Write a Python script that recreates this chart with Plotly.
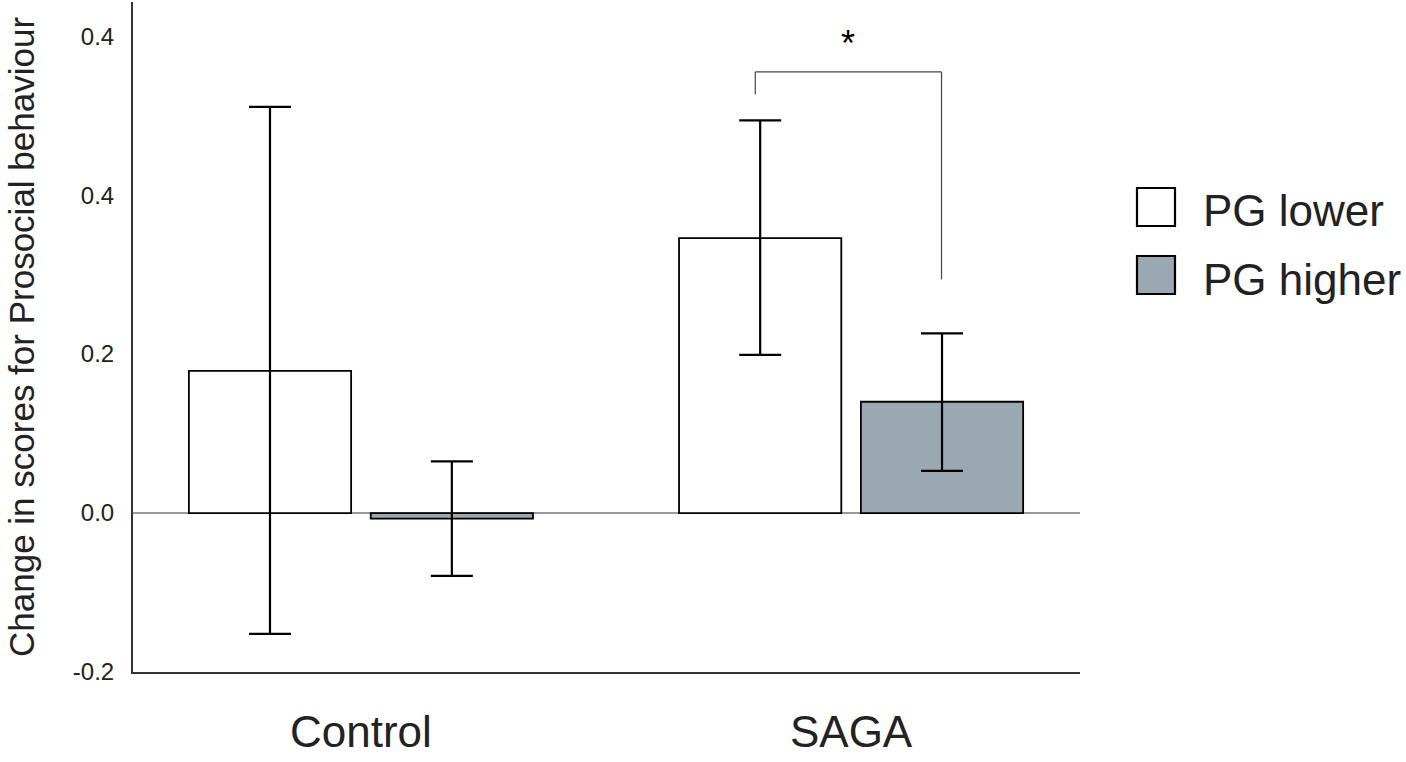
import plotly.graph_objects as go

# Data
groups = ["Control", "SAGA"]
series_names = ["PG lower", "PG higher"]
pg_lower = [0.179, 0.346]
pg_lower_hi = [0.511, 0.494]
pg_lower_lo = [-0.152, 0.199]
pg_higher = [-0.007, 0.140]
pg_higher_hi = [0.065, 0.226]
pg_higher_lo = [-0.079, 0.053]

y_tickvals = [-0.2, 0.0, 0.2, 0.4, 0.6]
y_ticktext = ["-0.2", "0.0", "0.2", "0.4", "0.4"]  # as printed in the figure

# significance bracket (SAGA: lower vs higher)
bracket_top = 0.555
bracket_left_end = 0.527
bracket_right_end = 0.294

fill_colors = ["white", "#9AA8B2"]
font = "Liberation Sans, Arial, sans-serif"

bar_width = 0.331
offsets = [-0.351, 0.020]

fig = go.Figure()

all_vals = [pg_lower, pg_higher]
all_hi = [pg_lower_hi, pg_higher_hi]
all_lo = [pg_lower_lo, pg_higher_lo]

for idx, name in enumerate(series_names):
    vals = all_vals[idx]
    plus = [h - v for h, v in zip(all_hi[idx], vals)]
    minus = [v - l for l, v in zip(all_lo[idx], vals)]
    fig.add_trace(go.Bar(
        x=groups,
        y=vals,
        name=name,
        width=bar_width,
        offset=offsets[idx],
        marker=dict(color=fill_colors[idx], line=dict(color="black", width=1.8)),
        error_y=dict(type="data", symmetric=False, array=plus, arrayminus=minus,
                     color="black", thickness=2.2, width=21),
        showlegend=False,
    ))

# bracket drawn over SAGA bar centres
x_left = offsets[0] + bar_width / 2 - 0.01
x_right = offsets[1] + bar_width / 2 - 0.001
bracket_x = [x_left, x_left, x_right, x_right]
bracket_y = [bracket_left_end, bracket_top, bracket_top, bracket_right_end]
for i in range(3):
    fig.add_shape(type="line", xref="x", yref="y",
                  x0=1 + bracket_x[i], x1=1 + bracket_x[i + 1],
                  y0=bracket_y[i], y1=bracket_y[i + 1],
                  line=dict(color="#444444", width=1.2))
fig.add_annotation(x=1 + (x_left + x_right) / 2, y=bracket_top, yref="y", xref="x",
                   text="*", showarrow=False, yshift=28,
                   font=dict(family=font, size=36, color="black"))

# manual legend with large swatches (pixel rows converted to paper coords)
plot_top, plot_h = 2, 670
plot_left, plot_w = 133, 947
legend_rows = [(207, fill_colors[0], series_names[0]), (275, fill_colors[1], series_names[1])]
for ypix, col, label in legend_rows:
    fig.add_shape(type="rect", xref="paper", yref="paper",
                  x0=(1137 - plot_left) / plot_w, x1=(1175 - plot_left) / plot_w,
                  y0=1 - (ypix - plot_top + 19) / plot_h, y1=1 - (ypix - plot_top - 19) / plot_h,
                  fillcolor=col, line=dict(color="black", width=2.2))
    fig.add_annotation(xref="paper", yref="paper", x=(1201 - plot_left) / plot_w,
                       y=1 - (ypix + 4 - plot_top) / plot_h, text=label, showarrow=False,
                       xanchor="left", yanchor="middle",
                       font=dict(family=font, size=44, color="#222222"))

# y-axis title
fig.add_annotation(xref="paper", yref="paper", x=0, y=0.5, xshift=-112,
                   xanchor="center", yanchor="middle",
                   text="Change in scores for Prosocial behaviour", textangle=-90,
                   showarrow=False, font=dict(family=font, size=35, color="#222222"))

fig.update_layout(
    width=1406,
    height=762,
    margin=dict(l=133, r=326, t=2, b=90),
    plot_bgcolor="white",
    paper_bgcolor="white",
    barmode="overlay",
    font=dict(family=font, color="#222222"),
    xaxis=dict(
        range=[-0.465, 1.467],
        showline=True, linecolor="#333333", linewidth=2,
        showgrid=False, ticks="", automargin=False,
        tickfont=dict(size=44, family=font, color="#222222"),
        ticklabelstandoff=20,
    ),
    yaxis=dict(
        range=[-0.2, 0.643],
        tickvals=y_tickvals, ticktext=y_ticktext,
        showline=True, linecolor="#333333", linewidth=2,
        showgrid=False, ticks="", automargin=False,
        zeroline=True, zerolinecolor="#999999", zerolinewidth=1.5,
        tickfont=dict(size=24, family=font, color="#222222"),
        ticklabelstandoff=12,
    ),
)

# drop the page's default body margin so the figure sits at the window origin
fig.write_html("out.html", config={"displayModeBar": False},
               post_script="document.body.style.margin='0';")
